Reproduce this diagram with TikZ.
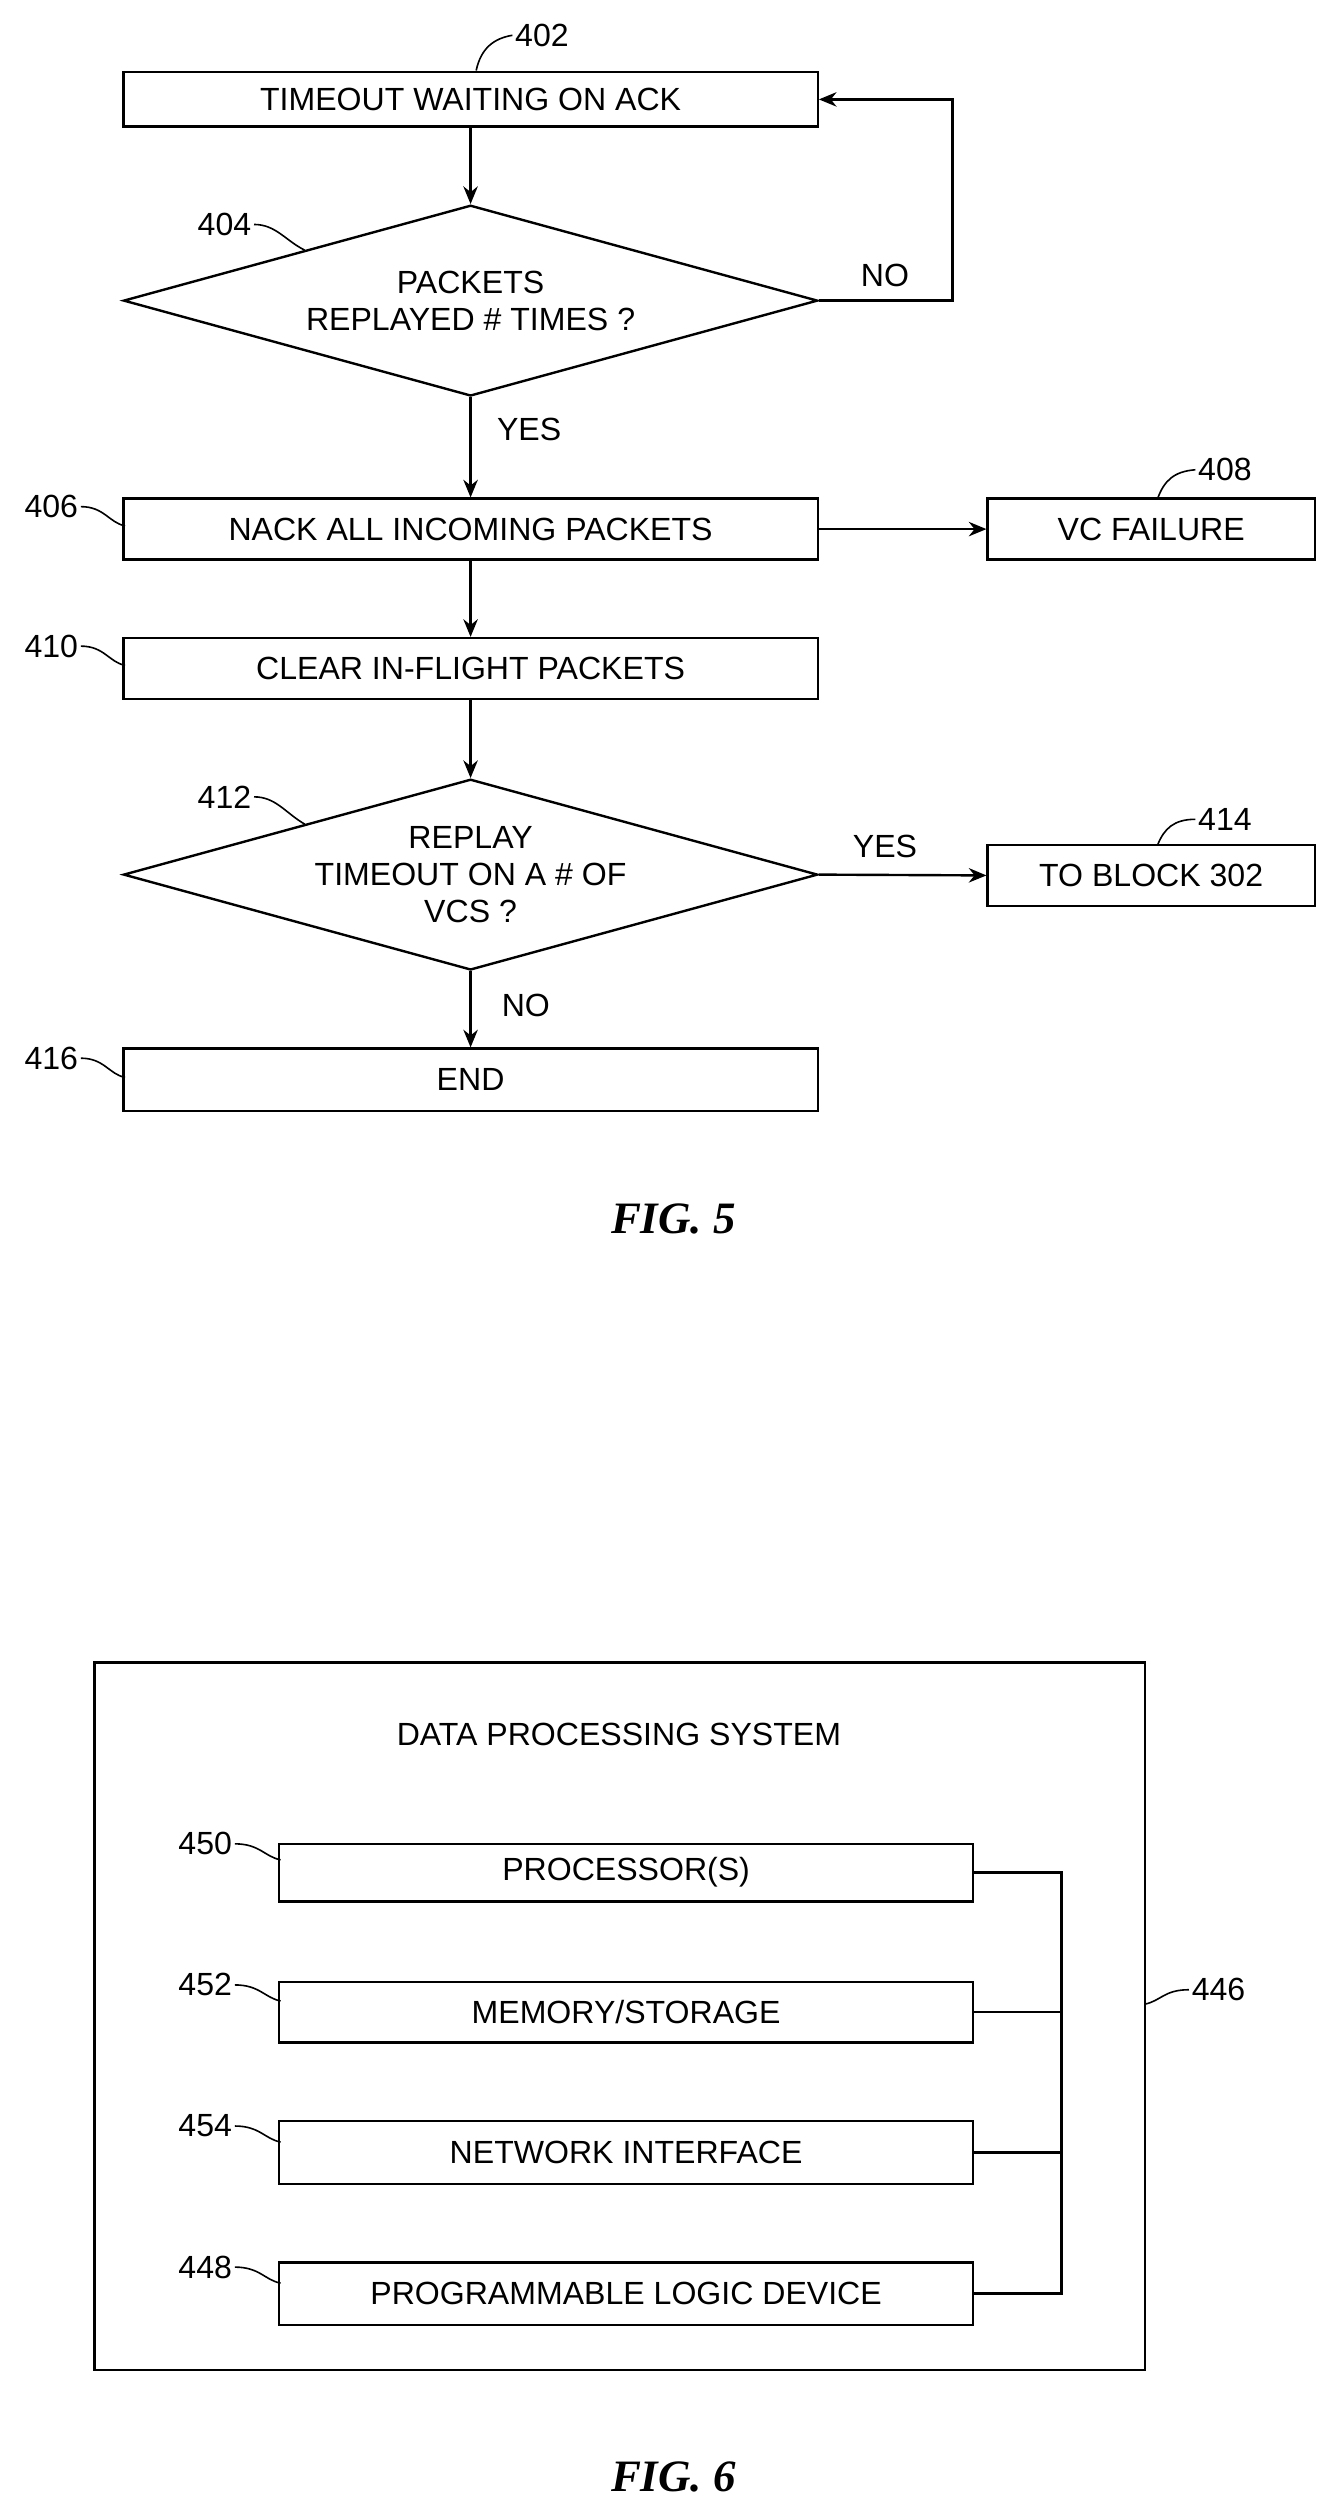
\documentclass[tikz,border=0pt]{standalone}
\usepackage{fontspec}
\setmainfont{Liberation Sans}
\newfontfamily\figfont{Liberation Serif}
\usetikzlibrary{arrows.meta,shapes.geometric}
\begin{document}
\begin{tikzpicture}[x=1pt,y=-1pt,line width=1.5pt,
  every node/.style={font=\fontsize{20}{23}\selectfont},
  box/.style={draw,rectangle,inner sep=0pt},
  arr/.style={-{Stealth[length=11pt,width=9pt]}},
  lbl/.style={inner sep=1pt},
  lead/.style={line width=1pt},
  fig/.style={font=\figfont\fontsize{28}{30}\selectfont\bfseries\itshape}]
\useasboundingbox (0,0) rectangle (834,1568);
% FIG 5
\node[box,minimum width=433pt,minimum height=34pt] (b402) at (293.5,62) {TIMEOUT WAITING ON ACK};
\node[draw,diamond,aspect=3.64,inner sep=0pt,minimum width=433pt,minimum height=119pt,align=center] (d404) at (293.5,187.5) {PACKETS\\REPLAYED \# TIMES ?};
\node[box,minimum width=433pt,minimum height=38pt] (b406) at (293.5,330) {NACK ALL INCOMING PACKETS};
\node[box,minimum width=204pt,minimum height=38pt] (b408) at (718,330) {VC FAILURE};
\node[box,minimum width=433pt,minimum height=38pt] (b410) at (293.5,417) {CLEAR IN-FLIGHT PACKETS};
\node[draw,diamond,aspect=3.64,inner sep=0pt,minimum width=433pt,minimum height=119pt,align=center] (d412) at (293.5,545.5) {REPLAY\\TIMEOUT ON A \# OF\\VCS ?};
\node[box,minimum width=204pt,minimum height=38pt] (b414) at (718,546) {TO BLOCK 302};
\node[box,minimum width=433pt,minimum height=39pt] (b416) at (293.5,673.5) {END};
\coordinate (c1) at (594,187.5);
\coordinate (c2) at (594,62);
\draw[arr] (b402) -- (d404);
\draw[arr] (d404.east) -- (c1) -- (c2) -- (b402.east);
\node at (552,172) {NO};
\draw[arr] (d404.south) -- (b406.north);
\node at (330,268) {YES};
\draw[arr] (b406) -- (b408);
\draw[arr] (b406) -- (b410);
\draw[arr] (b410) -- (d412);
\draw[arr] (d412.east) -- (b414.west);
\node at (552,528) {YES};
\draw[arr] (d412.south) -- (b416.north);
\node at (328,627) {NO};
% labels fig5
\node[lbl] (l402) at (338,22) {402};
\draw[lead] (297,44) .. controls (300,30) and (308,24) .. (l402.west);
\node[lbl] (l404) at (140,140) {404};
\draw[lead] (l404.east) .. controls (172,140) and (178,150) .. (190,156);
\node[lbl] (l406) at (32,316) {406};
\draw[lead] (l406.east) .. controls (65,316) and (68,326) .. (78,328);
\node[lbl] (l408) at (764,293) {408};
\draw[lead] (722,311) .. controls (726,300) and (732,294) .. (l408.west);
\node[lbl] (l410) at (32,403) {410};
\draw[lead] (l410.east) .. controls (65,403) and (68,413) .. (78,415);
\node[lbl] (l412) at (140,497) {412};
\draw[lead] (l412.east) .. controls (172,497) and (178,507) .. (190,514);
\node[lbl] (l414) at (764,511) {414};
\draw[lead] (722,527) .. controls (726,517) and (732,511) .. (l414.west);
\node[lbl] (l416) at (32,660) {416};
\draw[lead] (l416.east) .. controls (65,660) and (68,670) .. (78,672);
\node[fig] (f5) at (420,760) {FIG. 5};
% FIG 6
\node[box,minimum width=655pt,minimum height=441pt] (sys) at (386.5,1257.5) {};
\node (title) at (386,1082) {DATA PROCESSING SYSTEM};
\node[box,minimum width=433pt,minimum height=36pt] (b450) at (390.5,1168) {PROCESSOR(S)};
\node[box,minimum width=433pt,minimum height=38pt] (b452) at (390.5,1255) {MEMORY/STORAGE};
\node[box,minimum width=433pt,minimum height=39pt] (b454) at (390.5,1342.5) {NETWORK INTERFACE};
\node[box,minimum width=433pt,minimum height=39pt] (b448) at (390.5,1430.5) {PROGRAMMABLE LOGIC DEVICE};
\coordinate (t1) at (662,1168);
\coordinate (t4) at (662,1430.5);
\draw (b450.east) -- (t1) -- (t4) -- (b448.east);
\draw (b452.east) -- (662,1255);
\draw (b454.east) -- (662,1342.5);
\node[lbl] (l446) at (760,1241) {446};
\draw[lead] (714,1250) .. controls (724,1248) and (726,1241) .. (l446.west);
\node[lbl] (l450) at (128,1150) {450};
\draw[lead] (l450.east) .. controls (162,1150) and (165,1158) .. (175,1160);
\node[lbl] (l452) at (128,1238) {452};
\draw[lead] (l452.east) .. controls (162,1238) and (165,1246) .. (175,1248);
\node[lbl] (l454) at (128,1326) {454};
\draw[lead] (l454.east) .. controls (162,1326) and (165,1334) .. (175,1336);
\node[lbl] (l448) at (128,1414) {448};
\draw[lead] (l448.east) .. controls (162,1414) and (165,1422) .. (175,1424);
\node[fig] (f6) at (420,1545) {FIG. 6};
\end{tikzpicture}
\end{document}
